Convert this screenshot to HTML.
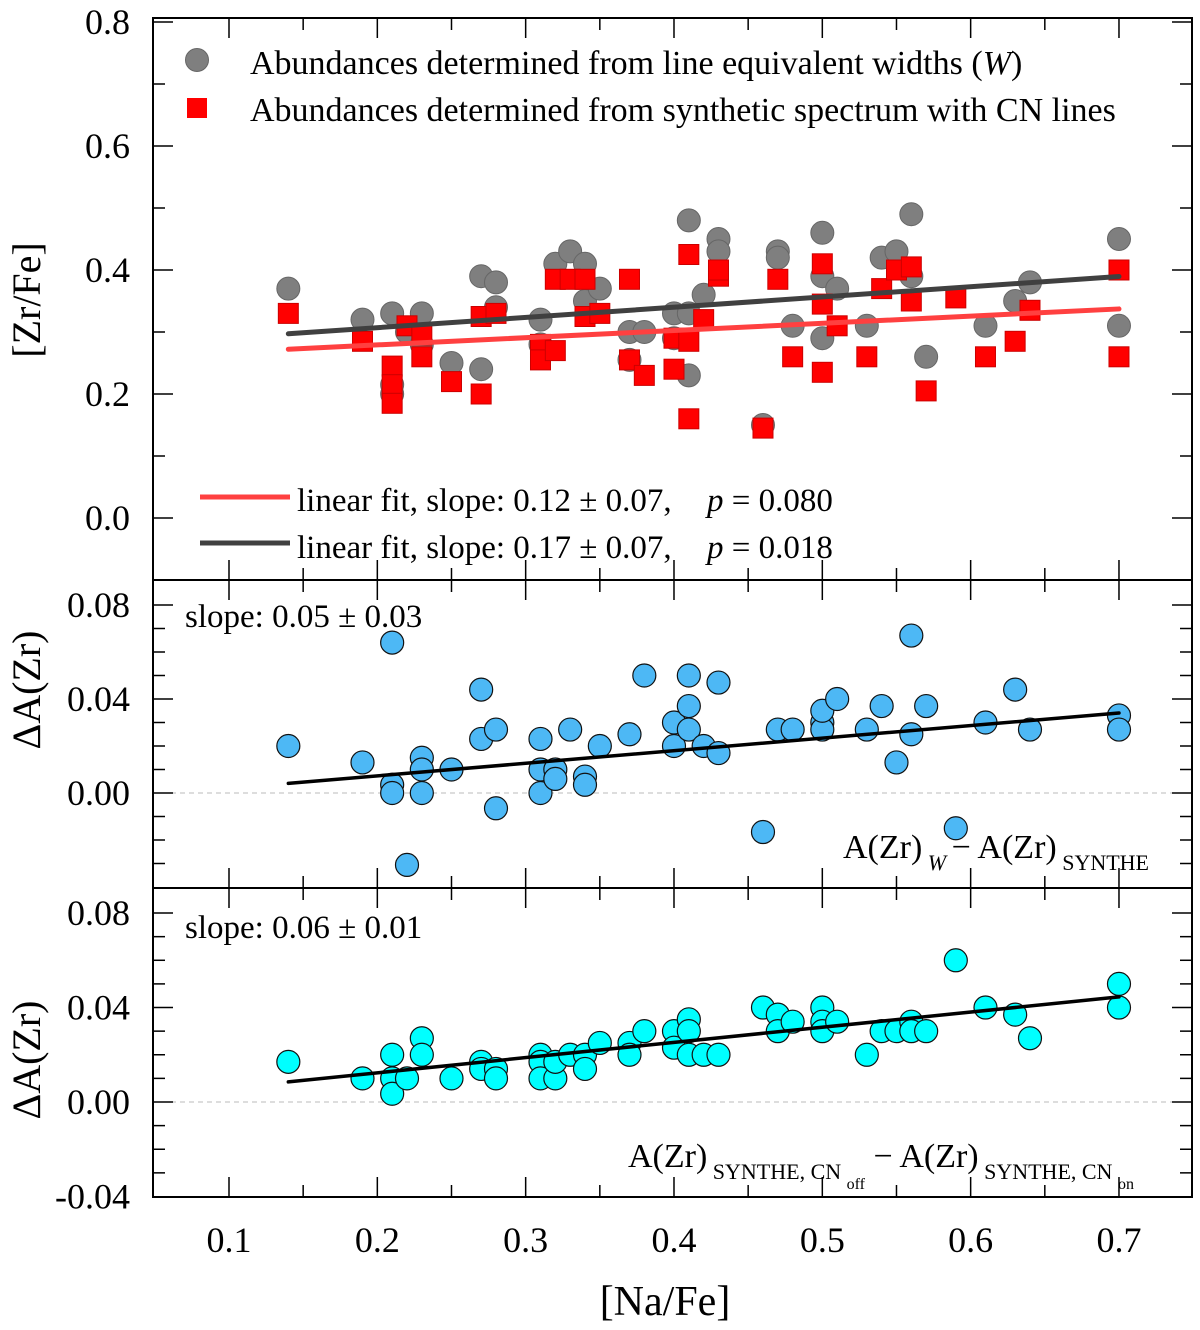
<!DOCTYPE html>
<html><head><meta charset="utf-8"><style>
html,body{margin:0;padding:0;background:#fff;}
svg{display:block;font-family:"Liberation Serif",serif;}
</style></head><body>
<svg id="chart" width="1200" height="1330" viewBox="0 0 1200 1330" xmlns="http://www.w3.org/2000/svg">
<g id="content"></g>
</svg>
<script>
// ---- data ----
const xTicks = [0.1,0.2,0.3,0.4,0.5,0.6,0.7];
const topYTicks = [0.0,0.2,0.4,0.6,0.8];
const midYTicks = [0.00,0.04,0.08];
const botYTicks = [-0.04,0.00,0.04,0.08];
const grayX = [0.14,0.19,0.21,0.21,0.21,0.22,0.23,0.23,0.25,0.27,0.27,0.28,0.28,0.31,0.31,0.32,0.33,0.34,0.34,0.35,0.37,0.37,0.38,0.40,0.40,0.41,0.41,0.41,0.42,0.43,0.43,0.46,0.47,0.47,0.48,0.50,0.50,0.50,0.51,0.53,0.54,0.55,0.56,0.56,0.57,0.61,0.63,0.64,0.70,0.70];
const grayY = [0.37,0.32,0.33,0.215,0.20,0.30,0.33,0.28,0.25,0.39,0.24,0.38,0.34,0.32,0.28,0.41,0.43,0.41,0.35,0.37,0.30,0.255,0.30,0.33,0.29,0.48,0.33,0.23,0.36,0.45,0.43,0.15,0.43,0.42,0.31,0.46,0.39,0.29,0.37,0.31,0.42,0.43,0.49,0.39,0.26,0.31,0.35,0.38,0.45,0.31];
const redX = [0.14,0.19,0.21,0.21,0.21,0.22,0.23,0.23,0.25,0.27,0.27,0.28,0.31,0.31,0.32,0.32,0.33,0.34,0.34,0.35,0.37,0.37,0.38,0.40,0.40,0.41,0.41,0.41,0.42,0.43,0.43,0.46,0.47,0.48,0.50,0.50,0.50,0.51,0.53,0.54,0.55,0.56,0.56,0.57,0.59,0.61,0.63,0.64,0.70,0.70];
const redY = [0.33,0.285,0.245,0.215,0.185,0.31,0.295,0.26,0.22,0.20,0.325,0.33,0.28,0.255,0.385,0.27,0.385,0.385,0.325,0.33,0.385,0.255,0.23,0.24,0.29,0.425,0.285,0.16,0.32,0.39,0.40,0.145,0.385,0.26,0.41,0.345,0.235,0.31,0.26,0.37,0.40,0.405,0.35,0.205,0.355,0.26,0.285,0.335,0.40,0.26];
const blackFit = [0.274,0.165];
const redFit = [0.256,0.116];
const midX = [0.14,0.19,0.21,0.21,0.21,0.22,0.23,0.23,0.23,0.25,0.27,0.27,0.28,0.28,0.31,0.31,0.31,0.32,0.32,0.33,0.34,0.34,0.35,0.37,0.38,0.40,0.40,0.41,0.41,0.41,0.42,0.43,0.43,0.46,0.47,0.48,0.50,0.50,0.50,0.51,0.53,0.54,0.55,0.56,0.56,0.57,0.59,0.61,0.63,0.64,0.70,0.70];
const midY = [0.020,0.013,0.064,0.0035,0.0,-0.0306,0.015,0.010,0.0,0.010,0.044,0.023,0.027,-0.0065,0.023,0.010,0.0,0.010,0.006,0.027,0.007,0.0035,0.020,0.025,0.050,0.030,0.020,0.050,0.037,0.027,0.020,0.047,0.017,-0.0166,0.027,0.027,0.030,0.027,0.035,0.040,0.027,0.037,0.013,0.067,0.025,0.037,-0.015,0.030,0.044,0.027,0.033,0.027];
const midFit = [-0.0034,0.0535];
const botX = [0.14,0.19,0.21,0.21,0.21,0.22,0.23,0.23,0.25,0.27,0.27,0.28,0.28,0.31,0.31,0.31,0.32,0.32,0.33,0.34,0.34,0.35,0.37,0.37,0.38,0.40,0.40,0.41,0.41,0.41,0.42,0.43,0.46,0.47,0.47,0.48,0.50,0.50,0.50,0.51,0.53,0.54,0.55,0.56,0.56,0.57,0.59,0.61,0.63,0.64,0.70,0.70];
const botY = [0.017,0.010,0.020,0.010,0.0035,0.010,0.027,0.020,0.010,0.017,0.014,0.014,0.010,0.020,0.017,0.010,0.010,0.017,0.020,0.020,0.014,0.025,0.025,0.020,0.030,0.030,0.023,0.035,0.030,0.020,0.020,0.020,0.040,0.037,0.030,0.034,0.040,0.034,0.030,0.034,0.020,0.030,0.030,0.034,0.030,0.030,0.060,0.040,0.037,0.027,0.050,0.040];
const botFit = [-0.0005,0.0643];

// ---- layout ----
const NS="http://www.w3.org/2000/svg";
const root=document.getElementById('content');
const L=153,R=1192;
const sx=v=>229+(v-0.1)*1483.3;
const syTop=v=>518-v*620;
const syMid=v=>793-v*2350;
const syBot=v=>1102-v*2362;
function el(tag,attrs,parent){const e=document.createElementNS(NS,tag);for(const k in attrs)e.setAttribute(k,attrs[k]);(parent||root).appendChild(e);return e;}

const gTop=el('g',{});


grayX.forEach((x,i)=>{const c=el('circle',{cx:sx(x),cy:syTop(grayY[i]),r:11.5,fill:'#7f7f7f',stroke:'#666','stroke-width':1},gTop);

});
redX.forEach((x,i)=>{const s=el('rect',{x:sx(x)-10,y:syTop(redY[i])-10,width:20,height:20,fill:'#ff0000',stroke:'#c00','stroke-width':1},gTop);

});
function fitLine(fit,sy,color,w,name){const l=el('line',{x1:sx(0.14),y1:sy(fit[0]+fit[1]*0.14),x2:sx(0.70),y2:sy(fit[0]+fit[1]*0.70),stroke:color,'stroke-width':w,'stroke-linecap':'round'});

}
fitLine(redFit,syTop,'#ff4040',5,'red-fit-line');
fitLine(blackFit,syTop,'#404040',5,'black-fit-line');

el('line',{x1:L,x2:R,y1:syMid(0),y2:syMid(0),stroke:'#bbb','stroke-dasharray':'5,4','stroke-width':1});
el('line',{x1:L,x2:R,y1:syBot(0),y2:syBot(0),stroke:'#bbb','stroke-dasharray':'5,4','stroke-width':1});

midX.forEach((x,i)=>{const c=el('circle',{cx:sx(x),cy:syMid(midY[i]),r:11.5,fill:'#4db8f5',stroke:'#111','stroke-width':1.2});

});
fitLine(midFit,syMid,'#000',3.5,'mid-fit-line');
botX.forEach((x,i)=>{const c=el('circle',{cx:sx(x),cy:syBot(botY[i]),r:11.5,fill:'#00ffff',stroke:'#111','stroke-width':1.2});

});
fitLine(botFit,syBot,'#000',3.5,'bot-fit-line');

el('rect',{x:L,y:18,width:R-L,height:1197-18,fill:'none',stroke:'#000','stroke-width':2});
el('line',{x1:L,x2:R,y1:580,y2:580,stroke:'#000','stroke-width':2});
el('line',{x1:L,x2:R,y1:888,y2:888,stroke:'#000','stroke-width':2});

const panels=[[18,580],[580,888],[888,1197]];
panels.forEach(([t,b])=>{
  for(let v=0.05;v<=0.75;v+=0.05){const x=sx(v);if(x<L+2||x>R-2)continue;
    const maj=Math.abs(Math.round(v*10)-v*10)<0.01;const len=maj?20:12;
    el('line',{x1:x,x2:x,y1:t,y2:t+len,stroke:'#000','stroke-width':1.5});
    el('line',{x1:x,x2:x,y1:b,y2:b-len,stroke:'#000','stroke-width':1.5});}
});
function yTicks(sy,from,to,step,majStep,t,b){for(let v=from;v<=to+1e-9;v+=step){const y=sy(v);if(y<t+2||y>b-2)continue;
  const maj=Math.abs(v/majStep-Math.round(v/majStep))<0.01;const len=maj?20:12;
  el('line',{x1:L,x2:L+len,y1:y,y2:y,stroke:'#000','stroke-width':1.5});
  el('line',{x1:R,x2:R-len,y1:y,y2:y,stroke:'#000','stroke-width':1.5});}}
yTicks(syTop,-0.1,0.8,0.1,0.2,18,580);
yTicks(syMid,-0.04,0.09,0.01,0.04,580,888);
yTicks(syBot,-0.04,0.09,0.01,0.04,888,1197);

function txt(x,y,s,size,anchor,name,extra){const e=el('text',Object.assign({x:x,y:y,'font-size':size,'text-anchor':anchor||'start',fill:'#000'},extra||{}));e.textContent=s;

return e;}
xTicks.forEach(v=>txt(sx(v),1252,v.toFixed(1),36,'middle','x-tick-label'));
topYTicks.forEach(v=>txt(130,syTop(v)+12,v.toFixed(1),36,'end','top-y-tick-label'));
midYTicks.forEach(v=>txt(130,syMid(v)+12,v.toFixed(2),36,'end','mid-y-tick-label'));
botYTicks.forEach(v=>txt(130,syBot(v)+12,v.toFixed(2),36,'end','bot-y-tick-label'));

txt(665,1315,'[Na/Fe]',42,'middle','x-axis-title');
txt(40,300,'[Zr/Fe]',40,'middle','top-y-axis-title',{transform:'rotate(-90 40 300)'});
txt(40,690,'ΔA(Zr)',40,'middle','mid-y-axis-title',{transform:'rotate(-90 40 690)'});
txt(40,1060,'ΔA(Zr)',40,'middle','bot-y-axis-title',{transform:'rotate(-90 40 1060)'});

const lg1=el('circle',{cx:197,cy:60,r:11.5,fill:'#7f7f7f',stroke:'#666'});


const lg2=el('rect',{x:187,y:98,width:20,height:20,fill:'#ff0000'});


const t1=txt(250,74,'Abundances determined from line equivalent widths  (',34,'start','legend-entry-w');
const ti=el('tspan',{'font-style':'italic'},t1);ti.textContent='W';
const te=el('tspan',{},t1);te.textContent=')';
txt(250,121,'Abundances determined from synthetic spectrum with CN lines',34,'start','legend-entry-synthe');
const ll1=el('line',{x1:200,x2:290,y1:497,y2:497,stroke:'#ff4040','stroke-width':5});


const ll2=el('line',{x1:200,x2:290,y1:543,y2:543,stroke:'#404040','stroke-width':5});


txt(297,511,'linear fit, slope: 0.12 ± 0.07,',33,'start','legend-red-fit');
txt(297,558,'linear fit, slope: 0.17 ± 0.07,',33,'start','legend-black-fit');
const p1=txt(707,511,'',33,'start','legend-red-p');const p1a=el('tspan',{'font-style':'italic'},p1);p1a.textContent='p';const p1b=el('tspan',{},p1);p1b.textContent=' = 0.080';
const p2=txt(707,558,'',33,'start','legend-black-p');const p2a=el('tspan',{'font-style':'italic'},p2);p2a.textContent='p';const p2b=el('tspan',{},p2);p2b.textContent=' = 0.018';

txt(185,627,'slope: 0.05 ± 0.03',33,'start','mid-slope-label');
txt(185,938,'slope: 0.06 ± 0.01',33,'start','bot-slope-label');
const a1=txt(843,858,'A(Zr)',34,'start','mid-diff-label');
const a1s=el('tspan',{'font-size':22,dy:12,'font-style':'italic'},a1);a1s.textContent=' W ';
const a1m=el('tspan',{dy:-12},a1);a1m.textContent=' − A(Zr)';
const a1t=el('tspan',{'font-size':22,dy:12},a1);a1t.textContent=' SYNTHE';
const a2=txt(628,1167,'A(Zr)',34,'start','bot-diff-label');
const a2s=el('tspan',{'font-size':22,dy:12},a2);a2s.textContent=' SYNTHE, CN ';
const a2o=el('tspan',{'font-size':16,dy:10},a2);a2o.textContent=' off';
const a2m=el('tspan',{dy:-22},a2);a2m.textContent=' − A(Zr)';
const a2t=el('tspan',{'font-size':22,dy:12},a2);a2t.textContent=' SYNTHE, CN ';
const a2n=el('tspan',{'font-size':16,dy:10},a2);a2n.textContent=' on';
</script>
</body></html>
